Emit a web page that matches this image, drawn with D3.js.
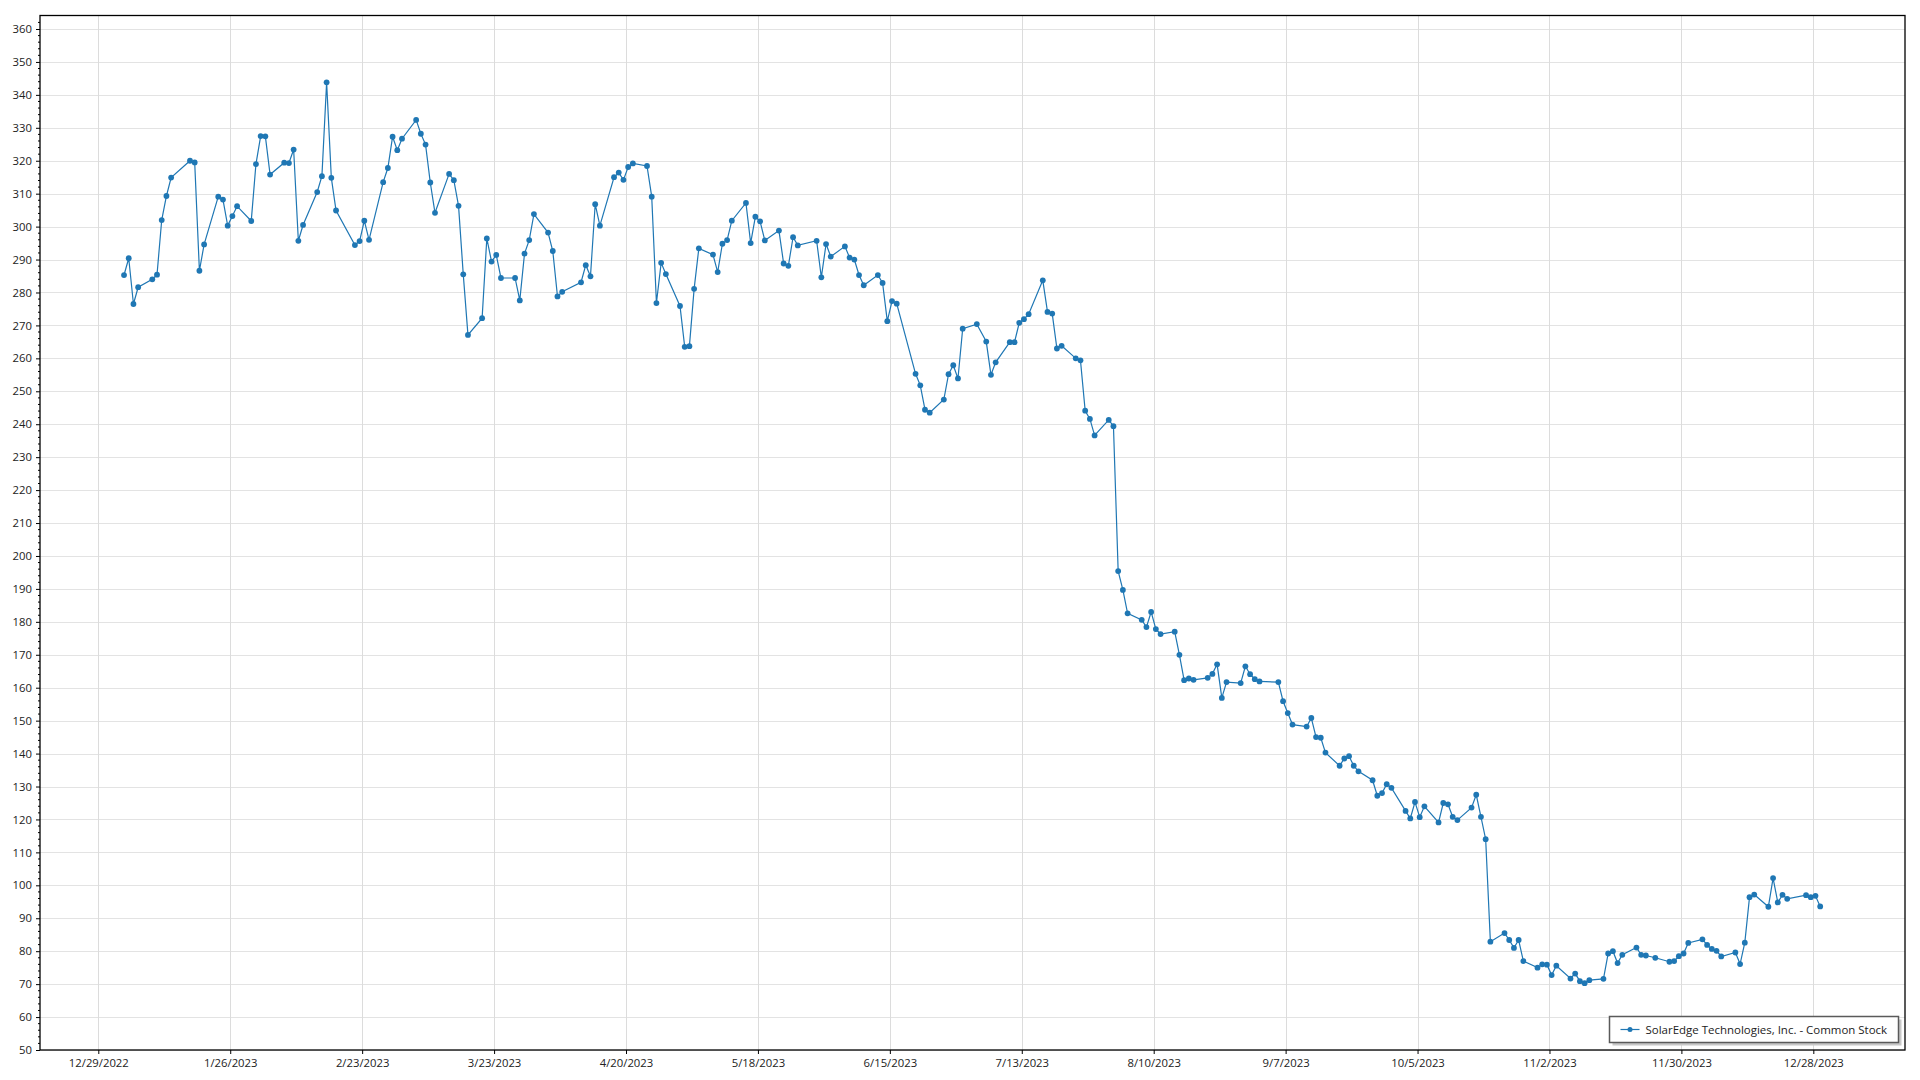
<!DOCTYPE html>
<html>
<head>
<meta charset="utf-8">
<script src="https://cdn.jsdelivr.net/npm/d3@7"></script>
<style>
  html, body { margin: 0; padding: 0; background: #fff; }
  svg { display: block; font-family: "Segoe UI", "Open Sans", "Noto Sans", sans-serif; }
</style>
</head>
<body>
<svg id="chart" width="1920" height="1080"></svg>
<script>
// ---- data ----
const seriesName = "SolarEdge Technologies, Inc. - Common Stock";
const year = 2023;
const marketHolidays = ["2023-01-02","2023-01-16","2023-02-20","2023-04-07","2023-05-29","2023-06-19","2023-07-04","2023-09-04","2023-11-23","2023-12-25"];
const closeJan = [285.3,290.4,276.5,281.6,284.0,285.4,302.0,309.3,314.9,320.0,319.5,286.6,294.6,309.1,308.2,300.3,303.2,306.2,301.7,319.0];
const closeFeb = [327.5,327.4,315.8,319.4,319.3,323.4,295.7,300.5,310.5,315.3,343.8,314.8,304.9,294.4,295.6,301.8,296.0,313.5,317.8];
const closeMar = [327.3,323.2,326.7,332.4,328.2,324.9,313.4,304.2,316.0,314.1,306.3,285.5,267.1,272.2,296.4,289.4,291.4,284.4,284.4,277.6,291.8,295.9,303.8];
const closeApr = [298.2,292.6,278.8,280.2,283.1,288.3,284.9,306.8,300.3,315.0,316.4,314.2,318.1,319.2,318.4,309.1,276.8,289.0,285.6];
const closeMay = [275.9,263.5,263.7,281.1,293.4,291.5,286.2,294.8,295.9,301.8,307.2,295.0,303.0,301.6,295.8,298.8,288.8,288.1,296.8,294.3,295.7,284.6];
const closeJun = [294.7,290.9,294.0,290.6,290.0,285.3,282.2,285.3,282.9,271.3,277.4,276.6,255.3,251.8,244.4,243.5,247.5,255.2,257.9,253.9,269.0];
const closeJul = [270.4,265.1,255.0,258.8,264.9,264.9,270.8,271.9,273.4,283.7,274.1,273.6,263.0,263.8,260.0,259.4,244.1,241.6,236.6,241.3];
const closeAug = [239.4,195.4,189.7,182.6,180.6,178.4,183.0,177.8,176.3,177.0,170.0,162.3,162.8,162.4,163.0,164.2,167.1,156.9,161.7,161.4,166.5,164.1,162.6];
const closeSep = [161.9,161.7,155.9,152.3,148.8,148.2,150.8,145.0,144.8,140.3,136.3,138.5,139.2,136.3,134.6,131.9,127.2,128.0,130.7,129.6];
const closeOct = [122.6,120.3,125.3,120.7,124.0,119.1,125.0,124.6,120.8,119.8,123.6,127.5,120.8,114.0,82.9,85.5,83.4,81.0,83.4,77.0,75.0,76.0];
const closeNov = [75.9,72.75,75.6,71.7,73.2,70.9,70.3,71.2,71.6,79.3,80.0,76.4,78.9,81.1,78.9,78.7,78.0,76.8,77.0,78.5,79.3];
const closeDec = [82.5,83.6,81.9,80.7,80.1,78.4,79.6,76.1,82.6,96.4,97.2,93.5,102.2,94.8,97.1,95.9,97.0,96.4,96.8,93.6];
const xTickLabels = ["12/29/2022","1/26/2023","2/23/2023","3/23/2023","4/20/2023","5/18/2023","6/15/2023","7/13/2023","8/10/2023","9/7/2023","10/5/2023","11/2/2023","11/30/2023","12/28/2023"];
const yTickValues = d3.range(50, 361, 10);
const yDomain = [50, 364.1];

// ---- build table ----
const closes = [].concat(closeJan,closeFeb,closeMar,closeApr,closeMay,closeJun,closeJul,closeAug,closeSep,closeOct,closeNov,closeDec);
const fmt = d3.utcFormat("%Y-%m-%d");
const holidaySet = new Set(marketHolidays);
const tradingDays = d3.utcDays(new Date(Date.UTC(year,0,1)), new Date(Date.UTC(year+1,0,1)))
  .filter(d => d.getUTCDay() !== 0 && d.getUTCDay() !== 6 && !holidaySet.has(fmt(d)));
const data = tradingDays.map((d, i) => ({ date: d3.utcHour.offset(d, 11), value: closes[i] }));
const parseTick = d3.utcParse("%m/%d/%Y");
const tickDates = xTickLabels.map(parseTick);

// ---- layout ----
const L = 40, R = 1905, T = 15.5, B = 1050;
const FONT = '"Segoe UI","Open Sans","Noto Sans",sans-serif';
const svg = d3.select("#chart");
svg.append("rect").attr("width",1920).attr("height",1080).attr("fill","#fff");

// fit font size so text metrics match the reference (Segoe UI-like widths)
function fitSize(str, targetWidth, base) {
  const t = svg.append("text").attr("font-family", FONT).attr("font-size", base).text(str);
  const w = t.node().getComputedTextLength();
  t.remove();
  return w > 0 ? base * targetWidth / w : base;
}
const tickFont = Math.min(12, fitSize("12/29/2022", 60, 12));
const legendFont = Math.min(12, fitSize(seriesName, 242, 12));

const x = d3.scaleUtc()
  .domain([new Date(Date.UTC(2022,11,16,15)), new Date(Date.UTC(2024,0,16,11))])
  .range([L, R]);
const y = d3.scaleLinear().domain(yDomain).range([B, T]);

// gridlines
const grid = svg.append("g");
grid.selectAll("line.h").data(yTickValues).join("line")
  .attr("x1", L).attr("x2", R)
  .attr("y1", d => Math.round(y(d)) + 0.5).attr("y2", d => Math.round(y(d)) + 0.5)
  .attr("stroke", "#e3e3e3").attr("stroke-width", 1);
grid.selectAll("line.v").data(tickDates).join("line")
  .attr("y1", T).attr("y2", B)
  .attr("x1", d => Math.round(x(d)) + 0.5).attr("x2", d => Math.round(x(d)) + 0.5)
  .attr("stroke", "#dcdcdc").attr("stroke-width", 1);

// frame
svg.append("rect").attr("x", L).attr("y", T).attr("width", R - L).attr("height", B - T)
  .attr("fill", "none").attr("stroke", "#000").attr("stroke-width", 1.3);

// y axis
const yAxis = d3.axisLeft(y).tickValues(yTickValues).tickSize(4).tickPadding(4).tickFormat(d3.format("d"));
const gy = svg.append("g").attr("transform", `translate(${L},0)`).call(yAxis);
gy.select(".domain").remove();
gy.selectAll("text").attr("font-size", tickFont).attr("fill", "#222").attr("font-family", FONT);
gy.selectAll("line").attr("stroke", "#000");
// minor ticks
const yMinor = d3.range(50, 364, 2).filter(v => v % 10 !== 0);
svg.append("g").selectAll("line").data(yMinor).join("line")
  .attr("x1", L - 2).attr("x2", L)
  .attr("y1", d => y(d)).attr("y2", d => y(d))
  .attr("stroke", "#000").attr("stroke-width", 1);

// x axis
const xAxis = d3.axisBottom(x).tickValues(tickDates).tickSize(4).tickPadding(5)
  .tickFormat((d, i) => xTickLabels[i]);
const gx = svg.append("g").attr("transform", `translate(0,${B})`).call(xAxis);
gx.select(".domain").remove();
gx.selectAll("text").attr("font-size", tickFont).attr("fill", "#222").attr("font-family", FONT);
gx.selectAll("line").attr("stroke", "#000");

// series
const color = "#1f77b4";
const line = d3.line().x(d => x(d.date)).y(d => y(d.value));
svg.append("path").datum(data).attr("d", line)
  .attr("fill", "none").attr("stroke", color).attr("stroke-width", 1.2);
svg.append("g").selectAll("circle").data(data).join("circle")
  .attr("cx", d => x(d.date)).attr("cy", d => y(d.value)).attr("r", 2.9)
  .attr("fill", color);

// legend
const lg = svg.append("g");
const lx = 1609.5, ly = 1016.5, lw = 289, lh = 26;
lg.append("rect").attr("x", lx + 3).attr("y", ly + 3).attr("width", lw).attr("height", lh).attr("fill", "#c8c8c8");
lg.append("rect").attr("x", lx).attr("y", ly).attr("width", lw).attr("height", lh)
  .attr("fill", "#fff").attr("stroke", "#5a5a5a").attr("stroke-width", 1.5);
lg.append("line").attr("x1", lx + 11).attr("x2", lx + 30).attr("y1", ly + 13).attr("y2", ly + 13)
  .attr("stroke", color).attr("stroke-width", 1.2);
lg.append("circle").attr("cx", lx + 20.5).attr("cy", ly + 13).attr("r", 2.5).attr("fill", color);
lg.append("text").attr("x", lx + 36).attr("y", ly + 17.5).attr("font-size", legendFont)
  .attr("font-family", FONT).attr("fill", "#222")
  .text(seriesName);
</script>
</body>
</html>
